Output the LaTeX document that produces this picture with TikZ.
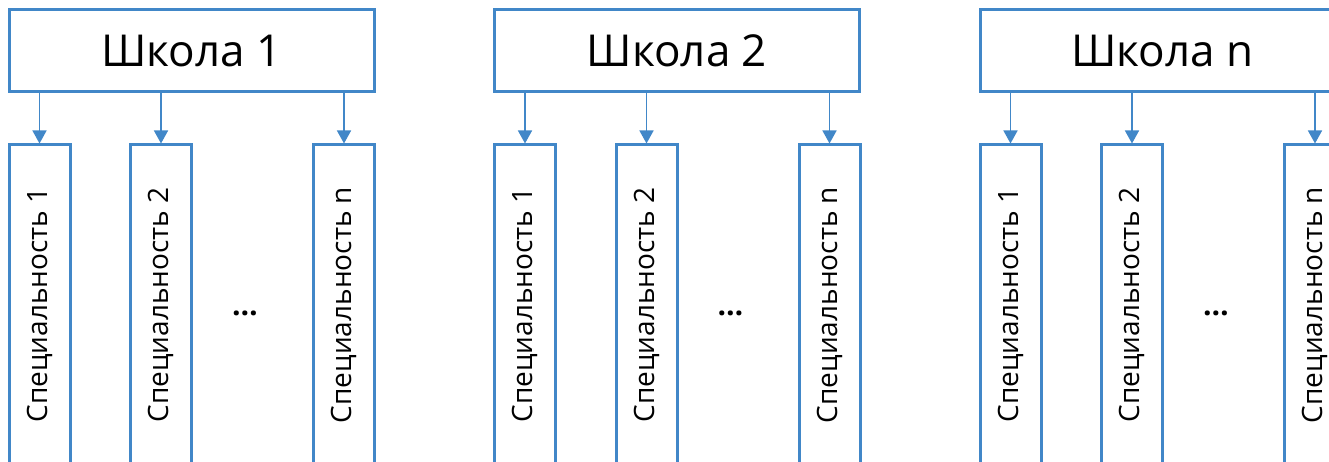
\documentclass[tikz,border=0pt]{standalone}
\usepackage{fontspec}
\setmainfont{Open Sans}
\usepackage{xcolor}
\usetikzlibrary{arrows.meta}
\definecolor{boxblue}{RGB}{65,135,200}
\tikzstyle{school} = [draw=boxblue, line width=3pt, minimum width=365pt, minimum height=82pt, inner sep=0pt, font=\fontsize{44}{52}\selectfont]
\tikzstyle{spec} = [draw=boxblue, line width=3pt, rotate=90, minimum width=320pt, minimum height=61pt, inner sep=0pt, font=\fontsize{28}{34}\selectfont]
\tikzstyle{dots} = [inner sep=0pt, font=\fontsize{30}{36}\selectfont\bfseries]
\tikzstyle{link} = [draw=boxblue, line width=1.5pt, -{Triangle[width=14pt,length=13pt]}]

\begin{document}
\begin{tikzpicture}[x=1pt,y=1pt]
\useasboundingbox (0,0) rectangle (1329,462);
\clip (0,0) rectangle (1329,462);
\foreach \g/\ox/\lab in {1/0/1, 2/485.5/2, 3/971/n} {
  %school
  \node[school] (school\g) at (191.5+\ox,411) {Школа \lab};
  %specialities
  \node[spec] (spa\g) at (39.5+\ox,157) {Специальность 1};
  \node[spec] (spb\g) at (161+\ox,157) {Специальность 2};
  \node[spec] (spn\g) at (344+\ox,157) {Специальность n};
  \node[dots] (dots\g) at (245+\ox,149) {…};
  %arrows
  \draw[link] (school\g.south -| spa\g.center) -- (spa\g.east);
  \draw[link] (school\g.south -| spb\g.center) -- (spb\g.east);
  \draw[link] (school\g.south -| spn\g.center) -- (spn\g.east);
}
\end{tikzpicture}
\end{document}
